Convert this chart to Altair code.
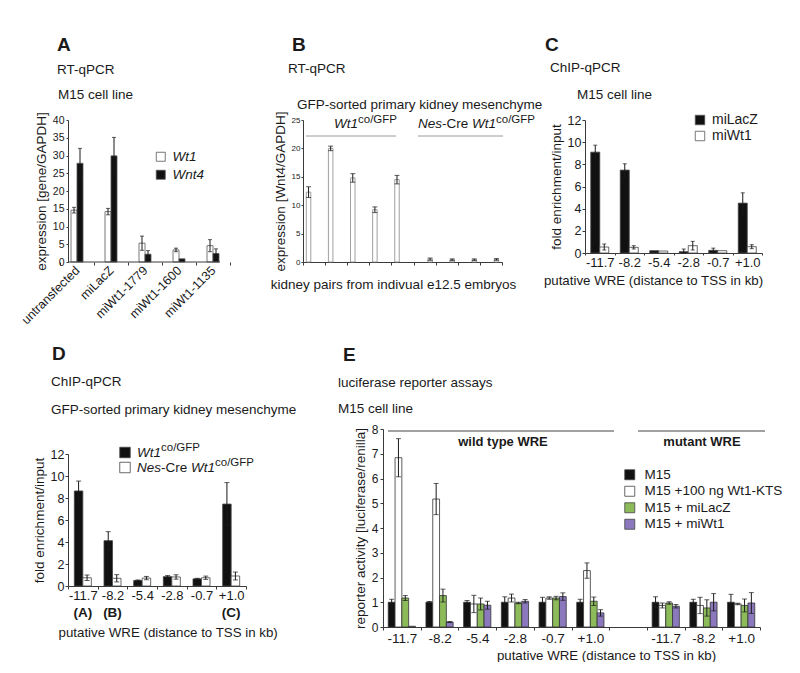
import altair as alt
import pandas as pd

FONT = "Liberation Sans"
INK = "#1a1a1a"
AXC = "#3a3a3a"
ONE = pd.DataFrame({"k": [0]})

# ---------------- data ----------------
# Panel A  (RT-qPCR, M15 cell line)
a_cats = ["untransfected", "miLacZ", "miWt1-1779", "miWt1-1600", "miWt1-1135"]
a_series = ["Wt1", "Wnt4"]
a_wt1 = [14.6, 14.2, 5.3, 3.4, 4.6]
a_wt1_err = [0.8, 0.9, 2.0, 0.5, 1.7]
a_wnt4 = [27.8, 29.9, 2.2, 0.9, 2.4]
a_wnt4_err = [4.2, 5.2, 1.0, 0.0, 1.3]

# Panel B  (RT-qPCR, primary kidney mesenchyme)
b_pairs = ["1", "2", "3", "4", "5", "6", "7", "8", "9"]
b_series = ["Wt1co/GFP", "Nes-Cre Wt1co/GFP"]
b_wt_pairs = ["1", "2", "3", "4", "5"]
b_nes_pairs = ["6", "7", "8", "9"]
b_wt = [12.3, 20.0, 14.8, 9.2, 14.5]
b_wt_err = [0.95, 0.4, 0.75, 0.5, 0.75]
b_nes = [0.5, 0.4, 0.4, 0.45]
b_nes_err = [0.2, 0.15, 0.15, 0.15]

# Panel C  (ChIP-qPCR, M15)
c_sites = ["-11.7", "-8.2", "-5.4", "-2.8", "-0.7", "+1.0"]
c_series = ["miLacZ", "miWt1"]
c_lacz = [9.1, 7.48, 0.21, 0.12, 0.24, 4.5]
c_lacz_err = [0.63, 0.57, 0.0, 0.24, 0.2, 0.93]
c_wt1 = [0.54, 0.51, 0.18, 0.66, 0.21, 0.57]
c_wt1_err = [0.27, 0.15, 0.0, 0.39, 0.0, 0.18]

# Panel D  (ChIP-qPCR, primary kidney mesenchyme)
d_sites = ["-11.7", "-8.2", "-5.4", "-2.8", "-0.7", "+1.0"]
d_tags = ["(A)", "(B)", "", "", "", "(C)"]
d_series = ["Wt1co/GFP", "Nes-Cre Wt1co/GFP"]
d_wt = [8.64, 4.12, 0.5, 0.85, 0.65, 7.45]
d_wt_err = [0.9, 0.82, 0.05, 0.1, 0.05, 1.95]
d_nes = [0.75, 0.7, 0.72, 0.82, 0.75, 0.91]
d_nes_err = [0.25, 0.33, 0.15, 0.2, 0.15, 0.36]

# Panel E  (luciferase reporter assays)
e_slots = ["w|-11.7", "w|-8.2", "w|-5.4", "w|-2.8", "w|-0.7", "w|+1.0",
           "g|", "m|-11.7", "m|-8.2", "m|+1.0"]
e_used = ["w|-11.7", "w|-8.2", "w|-5.4", "w|-2.8", "w|-0.7", "w|+1.0",
          "m|-11.7", "m|-8.2", "m|+1.0"]
e_series = ["M15", "M15 +100 ng Wt1-KTS", "M15 + miLacZ", "M15 + miWt1"]
e_m15 = [1.0, 1.0, 1.0, 1.0, 1.0, 1.0, 1.0, 1.0, 1.0]
e_m15_err = [0.12, 0.03, 0.07, 0.22, 0.2, 0.12, 0.22, 0.12, 0.32]
e_kts = [6.84, 5.17, 0.93, 1.17, 1.17, 2.28, 0.87, 0.87, 0.93]
e_kts_err = [0.77, 0.63, 0.35, 0.16, 0.05, 0.31, 0.1, 0.33, 0.03]
e_lacz = [1.17, 1.27, 0.93, 0.97, 1.17, 1.04, 0.97, 0.77, 0.87]
e_lacz_err = [0.1, 0.26, 0.24, 0.03, 0.07, 0.17, 0.05, 0.33, 0.26]
e_miwt1 = [0.03, 0.2, 0.88, 1.04, 1.23, 0.57, 0.84, 1.0, 0.97]
e_miwt1_err = [0.0, 0.02, 0.16, 0.07, 0.15, 0.13, 0.07, 0.35, 0.42]


def long(series, cats_list, vals_list, errs_list):
    rows = []
    for s, cats, vals, errs in zip(series, cats_list, vals_list, errs_list):
        for c, v, e in zip(cats, vals, errs):
            rows.append({"cat": c, "series": s, "value": v, "err": e})
    return pd.DataFrame(rows)


a_df = long(a_series, [a_cats, a_cats], [a_wt1, a_wnt4], [a_wt1_err, a_wnt4_err])
b_df = long(b_series, [b_wt_pairs, b_nes_pairs], [b_wt, b_nes], [b_wt_err, b_nes_err])
c_df = long(c_series, [c_sites, c_sites], [c_lacz, c_wt1], [c_lacz_err, c_wt1_err])
d_df = long(d_series, [d_sites, d_sites], [d_wt, d_nes], [d_wt_err, d_nes_err])
e_df = long(e_series, [e_used] * 4, [e_m15, e_kts, e_lacz, e_miwt1],
            [e_m15_err, e_kts_err, e_lacz_err, e_miwt1_err])
d_tag_df = pd.DataFrame({"cat": d_sites, "tag": d_tags})

# ---------------- helpers ----------------
CW = {"W": 0.944, "t": 0.278, "1": 0.556, "c": 0.5, "o": 0.556, "/": 0.278,
      "G": 0.778, "F": 0.611, "P": 0.667, "N": 0.722, "e": 0.556, "s": 0.5,
      "-": 0.333, "C": 0.722, "r": 0.333, " ": 0.278}


def tw(s, size):
    return sum(CW.get(ch, 0.556) for ch in s) * size


def note(x, y, s, size=13.5, weight="normal", style="normal", align="left", color=INK):
    return alt.Chart(ONE).mark_text(
        text=s, font=FONT, fontSize=size, fontWeight=weight, fontStyle=style,
        align=align, baseline="middle", color=color
    ).encode(x=alt.value(x), y=alt.value(y))


def rich(x, y, parts, size=13.5, sup_size=11.5, sup_dy=-4.5):
    out = []
    cx = x
    for s, style, sup in parts:
        fs = sup_size if sup else size
        out.append(note(cx, y + (sup_dy if sup else 0), s, size=fs, style=style))
        cx += tw(s, fs)
    return out


def hline(x1, x2, y, color="#444444", w=1):
    return alt.Chart(ONE).mark_rule(color=color, strokeWidth=w).encode(
        x=alt.value(x1), x2=alt.value(x2), y=alt.value(y))


def square(x, y, fill, size=110):
    return alt.Chart(ONE).mark_square(size=size, color=fill, stroke="#444444",
                                      strokeWidth=0.8, opacity=1).encode(
        x=alt.value(x), y=alt.value(y))


def panel(df, cats, series, colors, width, height, ymax, ystep, yaxis, xaxis,
          orange, opi, bar_stroke, cap, legend=None, xrange=None, extra=()):
    xs_kw = dict(domain=cats, paddingInner=0, paddingOuter=0)
    if xrange is not None:
        xs_kw["range"] = xrange
    xs = alt.Scale(**xs_kw)
    ys = alt.Scale(domain=[0, ymax], nice=False)
    xo = alt.XOffset("series:N", sort=series,
                     scale=alt.Scale(domain=series, range=orange,
                                     paddingInner=opi, paddingOuter=0))
    X = alt.X("cat:N", sort=cats, scale=xs, axis=xaxis)
    base = alt.Chart(df)
    col_kw = dict(sort=series, scale=alt.Scale(domain=series, range=colors))
    col_kw["legend"] = legend
    bars = base.mark_bar(stroke=bar_stroke, strokeWidth=0.8).encode(
        x=X, xOffset=xo,
        y=alt.Y("value:Q", scale=ys, axis=yaxis),
        color=alt.Color("series:N", **col_kw),
    )
    eb = base.transform_filter("datum.err > 0").transform_calculate(
        lo="max(0, datum.value - datum.err)", hi="datum.value + datum.err")
    rule = eb.mark_rule(color=INK, strokeWidth=1).encode(
        x=X, xOffset=xo, y=alt.Y("lo:Q", scale=ys, axis=yaxis), y2="hi:Q")
    hi = eb.mark_tick(color=INK, thickness=1, size=cap).encode(
        x=X, xOffset=xo, y=alt.Y("hi:Q", scale=ys, axis=yaxis))
    lo = eb.mark_tick(color=INK, thickness=1, size=cap).encode(
        x=X, xOffset=xo, y=alt.Y("lo:Q", scale=ys, axis=yaxis))
    return alt.layer(bars, rule, hi, lo, *extra).properties(width=width, height=height)


def yax(vals, size, title, tick=3, pad=1):
    return alt.Axis(values=vals, labelFontSize=size, tickSize=tick, labelPadding=pad,
                    title=title, titleFontSize=13.5, titlePadding=4)


WRE = "putative WRE (distance to TSS in kb)"

# ---------------- panel A ----------------
guard = alt.Chart(ONE).mark_rule(strokeOpacity=0).encode(
    x=alt.value(-59.5), x2=alt.value(-58.5), y=alt.value(-111.5))
A = panel(
    a_df, a_cats, a_series, ["#ffffff", "#111111"], 152, 142, 40, 5,
    yax(list(range(0, 41, 5)), 10.5, "expression [gene/GAPDH]", tick=2, pad=2),
    alt.Axis(title=None, labelAngle=-45, labelAlign="right", labelBaseline="middle",
             labelFontSize=12.5, labelPadding=3, tickBand="extent", tickSize=3, domain=False),
    [11, 23], 0, "#555555", 4,
    legend=alt.Legend(orient="none", legendX=86, legendY=30, title=None,
                      symbolType="square", symbolSize=81, symbolStrokeColor="#555555",
                      symbolStrokeWidth=0.8, labelFontSize=13.5, labelFontStyle="italic",
                      rowPadding=3, labelOffset=5, padding=0),
    xrange=[-8, 162],
    extra=[guard, hline(0, 152, 142, AXC),
           note(-11, -75, "A", 19, "bold"),
           note(-11, -50, "RT-qPCR"),
           note(-10, -25, "M15 cell line")],
)

# ---------------- panel B ----------------
B = panel(
    b_df, b_pairs, b_series, ["#ffffff", "#ffffff"], 199, 142, 25, 5,
    yax(list(range(0, 26, 5)), 8, "expression [Wnt4/GAPDH]", tick=2, pad=1),
    alt.Axis(title="kidney pairs from indivual e12.5 embryos", labels=False,
             tickBand="extent", tickSize=3, titleFontSize=13.5, titleX=90, titleY=22,
             titleBaseline="middle"),
    [3.3, 18.8], 0.591, "#888888", 5,
    extra=[note(-11, -75, "B", 19, "bold"),
           note(-15, -51, "RT-qPCR"),
           note(-6, -15, "GFP-sorted primary kidney mesenchyme"),
           *rich(31, 4, [("Wt1", "italic", False), ("co/GFP", "normal", True)]),
           hline(3, 93, 16, "#9a9a9a"),
           *rich(115, 4, [("Nes", "italic", False), ("-Cre ", "normal", False),
                          ("Wt1", "italic", False), ("co/GFP", "normal", True)]),
           hline(115, 200, 16, "#9a9a9a")],
)

# ---------------- panel C ----------------
C = panel(
    c_df, c_sites, c_series, ["#111111", "#ffffff"], 177, 133, 12, 2,
    yax(list(range(0, 13, 2)), 12.5, "fold enrichment/input"),
    alt.Axis(title=WRE, labelAngle=0, labelFontSize=13, labelPadding=1, tickSize=2,
             tickBand="extent", titleFontSize=13.3, titleX=68, titleY=27,
             titleBaseline="middle"),
    [5.75, 23.75], 0, "#444444", 4,
    legend=alt.Legend(orient="none", legendX=108, legendY=-7, title=None,
                      symbolType="square", symbolSize=90, symbolStrokeColor="#555555",
                      symbolStrokeWidth=0.8, labelFontSize=14, rowPadding=2,
                      labelOffset=5, padding=0),
    extra=[note(-40, -75, "C", 19, "bold"),
           note(-35, -52, "ChIP-qPCR"),
           note(-8, -25, "M15 cell line")],
)

# ---------------- panel D ----------------
D_AX = alt.Axis(title=WRE, labelAngle=0, labelFontSize=13, labelPadding=0, tickSize=3,
                tickBand="extent", titleFontSize=13.3, titleX=-10, titleAlign="left",
                titleY=46, titleBaseline="middle")
d_tag_layer = alt.Chart(d_tag_df).mark_text(
    font=FONT, fontSize=13.5, fontWeight="bold", baseline="middle", color=INK
).encode(
    x=alt.X("cat:N", sort=d_sites,
            scale=alt.Scale(domain=d_sites, paddingInner=0, paddingOuter=0), axis=D_AX),
    y=alt.value(159), text="tag:N")

D = panel(
    d_df, d_sites, d_series, ["#111111", "#ffffff"], 178, 132, 12, 2,
    yax(list(range(0, 13, 2)), 12.5, "fold enrichment/input"),
    D_AX,
    [6.33, 23.33], 0, "#444444", 5,
    extra=[d_tag_layer,
           note(-16, -100, "D", 19, "bold"),
           note(-17, -72, "ChIP-qPCR"),
           note(-17, -44, "GFP-sorted primary kidney mesenchyme"),
           square(57, -1.5, "#111111"), square(57, 13.5, "#ffffff"),
           *rich(69, -1.5, [("Wt1", "italic", False), ("co/GFP", "normal", True)]),
           *rich(69, 13.5, [("Nes", "italic", False), ("-Cre ", "normal", False),
                            ("Wt1", "italic", False), ("co/GFP", "normal", True)])],
)

spacer = alt.Chart(ONE).mark_point(opacity=0).encode(
    x=alt.value(0), y=alt.value(0)).properties(width=178, height=25)

# ---------------- panel E ----------------
E = panel(
    e_df, e_slots, e_series, ["#111111", "#ffffff", "#8dbb5a", "#8c78bd"], 377, 198, 8, 1,
    yax(list(range(0, 9)), 12, "reporter activity [luciferase/renilla]", tick=3, pad=2),
    alt.Axis(title=WRE, labelExpr="substring(datum.label, 2)", labelAngle=0,
             labelFontSize=13.5, labelPadding=1, tickSize=3, tickBand="extent",
             titleFontSize=13.3, titleX=223, titleY=28, titleBaseline="middle"),
    [5.25, 32.45], 0, "#333333", 5,
    legend=alt.Legend(orient="none", legendX=240, legendY=39, title=None,
                      symbolType="square", symbolSize=100, symbolStrokeColor="#444444",
                      symbolStrokeWidth=0.8, labelFontSize=13.5, rowPadding=1.5,
                      labelOffset=8, padding=0),
    extra=[note(-40, -74, "E", 19, "bold"),
           note(-45, -46, "luciferase reporter assays"),
           note(-45, -20, "M15 cell line"),
           hline(5, 231, 2), note(120, 13, "wild type WRE", 13, "bold", align="center"),
           hline(255, 382, 2), note(319, 13, "mutant WRE", 13, "bold", align="center")],
)

# ---------------- layout ----------------
# (nested flush groups count as zero-size, so spacings are measured origin to origin)
top = alt.hconcat(A, B, C, spacing=83, bounds="flush").resolve_scale(
    color="independent", xOffset="independent")
dcol = alt.vconcat(spacer, D, spacing=0, bounds="flush")
bottom = alt.hconcat(dcol, E, spacing=315, bounds="flush").resolve_scale(
    color="independent", xOffset="independent")
chart = alt.vconcat(top, bottom, spacing=309, bounds="flush").resolve_scale(
    color="independent", xOffset="independent"
).properties(padding=0).configure(font=FONT).configure_view(stroke=None).configure_axis(
    labelFont=FONT, titleFont=FONT, labelColor=INK, titleColor=INK, domainColor=AXC,
    tickColor=AXC, grid=False, titleFontWeight="normal"
).configure_legend(labelFont=FONT, labelColor=INK)

chart.save("out.html", embed_options={"renderer": "svg", "actions": False})
